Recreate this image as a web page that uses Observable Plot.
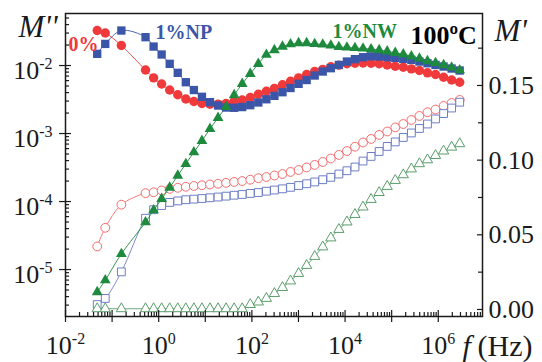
<!DOCTYPE html>
<html><head><meta charset="utf-8">
<script src="https://cdn.jsdelivr.net/npm/d3@7"></script>
<script src="https://cdn.jsdelivr.net/npm/@observablehq/plot@0.6"></script>
<style>
body{margin:0;background:#fff;}
#wrap{position:relative;width:542px;height:362px;overflow:hidden;}
#wrap svg{position:absolute;left:0;top:0;}
#wrap text{font-family:"Liberation Serif", serif;}
</style></head><body><div id="wrap"></div>
<script>
// frequency (Hz)
const freq = [0.04791, 0.07135, 0.1581, 0.5221, 0.7774, 1.157, 1.723, 2.566, 3.820, 5.689, 8.473,
  12.61, 18.78, 27.96, 41.64, 61.97, 92.29, 137.4, 204.6, 304.7, 453.5, 675.3, 1006, 1497, 2229,
  3319, 4942, 7360, 10955, 16313, 24290, 36170, 53860, 80170, 119400, 177700, 264700, 394000,
  586700, 873500, 1301000, 1936000, 2884000];
// M'' (left, log)
const mpp0 = [0.0327, 0.0301, 0.0197, 0.00859, 0.00659, 0.00534, 0.00436, 0.00372, 0.00322, 0.00296, 0.00276,
  0.00270, 0.00270, 0.00276, 0.00294, 0.00311, 0.00338, 0.00378, 0.00419, 0.00462, 0.00522, 0.00586, 0.00659,
  0.00738, 0.00816, 0.00879, 0.00957, 0.01014, 0.0106, 0.0108, 0.0109, 0.0108, 0.0106, 0.0102, 0.00977, 0.00944,
  0.00894, 0.00844, 0.00781, 0.00738, 0.00673, 0.00612, 0.00568];
const mppNP = [0.01486, 0.0208, 0.0327, 0.0261, 0.0190, 0.01452, 0.01059, 0.00781, 0.00568, 0.00436, 0.00347,
  0.00289, 0.00258, 0.00241, 0.00239, 0.00245, 0.00261, 0.00286, 0.00319, 0.00358, 0.00405, 0.00467, 0.00538,
  0.00612, 0.00713, 0.00816, 0.00913, 0.0102, 0.01145, 0.0124, 0.01325, 0.01365, 0.01355, 0.01325, 0.01297,
  0.01255, 0.01213, 0.01145, 0.0108, 0.0102, 0.00966, 0.00903, 0.00844];
const mppNW = [4.67e-6, 6.97e-6, 1.70e-5, 4.96e-5, 7.45e-5, 1.096e-4, 1.607e-4, 2.41e-4, 3.58e-4, 5.31e-4, 7.81e-4,
  1.172e-3, 1.702e-3, 2.47e-3, 3.68e-3, 5.38e-3, 7.55e-3, 0.0106, 0.01442, 0.0169, 0.0190, 0.0206, 0.0214,
  0.0214, 0.0208, 0.0204, 0.0197, 0.0188, 0.0184, 0.0181, 0.0178, 0.0174, 0.0169, 0.0162, 0.0154, 0.0146,
  0.01365, 0.01267, 0.01164, 0.0109, 0.01017, 0.00935, 0.00853];
// M' (right, linear)
const mp0 = [0.0422, 0.0547, 0.0702, 0.0779, 0.0785, 0.0797, 0.0808, 0.0815, 0.0822, 0.0827, 0.0832,
  0.0837, 0.0842, 0.0848, 0.0854, 0.0860, 0.0869, 0.0879, 0.0887, 0.0897, 0.0907, 0.0921, 0.0934,
  0.0951, 0.0968, 0.0988, 0.1011, 0.1035, 0.1061, 0.1090, 0.1118, 0.1142, 0.1169, 0.1192, 0.1219,
  0.1242, 0.1269, 0.1296, 0.1321, 0.1339, 0.1363, 0.1383, 0.1403];
const mpNP = [0.0033, 0.0074, 0.0252, 0.0611, 0.0668, 0.0696, 0.0717, 0.0727, 0.0735, 0.0739, 0.0743,
  0.0748, 0.0753, 0.0759, 0.0765, 0.0770, 0.0777, 0.0783, 0.0792, 0.0800, 0.0808, 0.0818, 0.0830,
  0.0842, 0.0854, 0.0869, 0.0885, 0.0907, 0.0929, 0.0954, 0.0994, 0.1025, 0.1058, 0.1092, 0.1122,
  0.1152, 0.1182, 0.1212, 0.1242, 0.1276, 0.1312, 0.1349, 0.1388];
const mpNW = [0.0005, 0.0005, 0.0005, 0.0005, 0.0005, 0.0005, 0.0005, 0.0005, 0.0005, 0.0005, 0.0005,
  0.0005, 0.0005, 0.0005, 0.0005, 0.0005, 0.0033, 0.0050, 0.0074, 0.0107, 0.0147, 0.0191, 0.0241,
  0.0295, 0.0355, 0.0419, 0.0479, 0.0536, 0.0586, 0.0636, 0.0686, 0.0737, 0.0783, 0.0824, 0.0864,
  0.0902, 0.0941, 0.0976, 0.1002, 0.1031, 0.1061, 0.1087, 0.1110];

// ticks
const xMajor = [1e-2, 1e-1, 1e0, 1e1, 1e2, 1e3, 1e4, 1e5, 1e6];
const xLabels = [1e-2, 1e0, 1e2, 1e4, 1e6];
const yMajor = [1e-5, 1e-4, 1e-3, 1e-2];
const rMajor = [0, 0.05, 0.10, 0.15];
const rMinor = [0.025, 0.075, 0.125, 0.175];

const W = 542, H = 362, ML = 65, MR = 60, MT = 13, MB = 46;
const FW = W - ML - MR, FH = H - MT - MB;
const serif = "Liberation Serif";
const ink = "#1a1a1a";

const C = {r: "#f0393a", b: "#3b55a9", g: "#1e8a3d", rl: "#f36b6b", bl: "#6d7ec6", gl: "#5b9d6b"};

function minorsLog(lo, hi) {
  const out = [];
  for (let e = Math.floor(Math.log10(lo)); e <= Math.ceil(Math.log10(hi)); e++)
    for (let m = 2; m <= 9; m++) { const v = m * Math.pow(10, e); if (v >= lo && v <= hi) out.push(v); }
  return out;
}
const xDom = [0.01, 8.9e6];
const yDom = [2.04e-6, 0.0582];
const rDom = [-0.0047, 0.1982];
const xMinor = minorsLog(xDom[0], xDom[1]);
const yMinor = minorsLog(yDom[0], yDom[1]);

const rows = (ys) => freq.map((f, i) => ({f, v: ys[i]}));
const expLabel = (d) => "10^" + String(Math.round(Math.log10(d)));

function note(str, x, base, size, o = {}) {
  return Plot.text([str], {text: d => d, frameAnchor: "top-left", dx: x - ML, dy: base - MT,
    lineAnchor: "bottom", textAnchor: "start", fontSize: size, fontFamily: serif, ...o});
}

const common = {width: W, height: H, marginLeft: ML, marginRight: MR, marginTop: MT, marginBottom: MB,
  x: {type: "log", domain: xDom, axis: null}, style: {background: "transparent", overflow: "visible"}};

// right-axis plot (M', linear), drawn underneath
const p2 = Plot.plot({...common,
  y: {type: "linear", domain: rDom, axis: null},
  marks: [
    Plot.line(rows(mp0), {x: "f", y: "v", stroke: C.rl, strokeWidth: 0.9, curve: "catmull-rom"}),
    Plot.line(rows(mpNP), {x: "f", y: "v", stroke: C.bl, strokeWidth: 0.9, curve: "catmull-rom"}),
    Plot.line(rows(mpNW), {x: "f", y: "v", stroke: C.gl, strokeWidth: 0.9, curve: "catmull-rom"}),
    Plot.dot(rows(mp0), {x: "f", y: "v", symbol: "circle", r: 4.4, stroke: C.rl, strokeWidth: 1, fill: "white"}),
    Plot.dot(rows(mpNP), {x: "f", y: "v", symbol: "square", r: 4.4, stroke: C.bl, strokeWidth: 1, fill: "white"}),
    Plot.dot(rows(mpNW), {x: "f", y: "v", symbol: "triangle", r: 3.8, stroke: C.gl, strokeWidth: 1, fill: "white"}),
    Plot.tickY(rMajor, {y: d => d, insetLeft: FW - 5, stroke: ink, strokeWidth: 1.2}),
    Plot.tickY(rMinor, {y: d => d, insetLeft: FW - 4, stroke: ink, strokeWidth: 1.2}),
    Plot.text(rMajor, {y: d => d, text: d => d.toFixed(2), frameAnchor: "right", textAnchor: "start",
      lineAnchor: "bottom", dx: 6, dy: 8.5, fontSize: 26, fontFamily: serif, fill: ink})
  ]
});

// left-axis plot (M'', log), drawn on top, carries frame and x axis
const p1 = Plot.plot({...common,
  y: {type: "log", domain: yDom, axis: null},
  marks: [
    Plot.line(rows(mpp0), {x: "f", y: "v", stroke: C.r, strokeWidth: 0.9, curve: "catmull-rom"}),
    Plot.line(rows(mppNP), {x: "f", y: "v", stroke: C.b, strokeWidth: 0.9, curve: "catmull-rom"}),
    Plot.line(rows(mppNW), {x: "f", y: "v", stroke: C.g, strokeWidth: 0.9, curve: "catmull-rom"}),
    Plot.dot(rows(mpp0), {x: "f", y: "v", symbol: "circle", r: 4.7, fill: C.r}),
    Plot.dot(rows(mppNP), {x: "f", y: "v", symbol: "square", r: 4.7, fill: C.b}),
    Plot.dot(rows(mppNW), {x: "f", y: "v", symbol: "triangle", r: 4.0, fill: C.g}),
    Plot.frame({stroke: ink, strokeWidth: 1.5}),
    Plot.tickX(xMajor, {x: d => d, insetTop: FH - 6, insetBottom: -6, stroke: ink, strokeWidth: 1.2}),
    Plot.tickX(xMinor, {x: d => d, insetTop: FH - 4, stroke: ink, strokeWidth: 1.2}),
    Plot.tickY(yMajor, {y: d => d, insetLeft: -6, insetRight: FW - 6, stroke: ink, strokeWidth: 1.2}),
    Plot.tickY(yMinor, {y: d => d, insetRight: FW - 4, stroke: ink, strokeWidth: 1.2}),
    Plot.text(yMajor, {y: d => d, text: expLabel, frameAnchor: "left", textAnchor: "end", lineAnchor: "bottom",
      dx: -13, dy: 13, fontSize: 26, fontFamily: serif, fill: ink}),
    Plot.text(xLabels, {x: d => d, text: expLabel, frameAnchor: "bottom", textAnchor: "middle", lineAnchor: "bottom",
      dy: 37, fontSize: 26, fontFamily: serif, fill: ink}),
    note("M''", 18, 36, 31, {fontStyle: "italic", fill: ink}),
    note("M'", 494, 40, 31, {fontStyle: "italic", fill: ink}),
    note("100ºC", 410, 43, 26, {fontWeight: "bold", fill: "#000"}),
    note("0%", 68, 50, 20, {fontWeight: "bold", fill: C.r}),
    note("1%NP", 155, 38, 20, {fontWeight: "bold", fill: C.b}),
    note("1%NW", 332, 37, 20, {fontWeight: "bold", fill: C.g}),
    note("f", 462, 355, 30, {fontStyle: "italic", fill: ink}),
    note("(Hz)", 477, 355, 30, {fill: ink})
  ]
});

const wrap = document.getElementById("wrap");
wrap.appendChild(p2);
wrap.appendChild(p1);

// turn "10^e" into 10 with superscript e
d3.selectAll("#wrap text").each(function () {
  const t = this.textContent;
  if (!t.includes("^")) return;
  const [b, e] = t.split("^");
  const s = d3.select(this);
  s.text(b);
  s.append("tspan").attr("dy", -10).attr("font-size", 16).text(e);
});
</script></body></html>
